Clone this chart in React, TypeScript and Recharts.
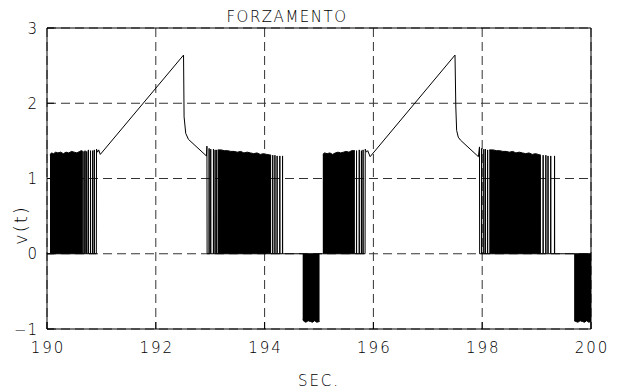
import React from 'react';
import { ComposedChart, Line, Area, XAxis, YAxis, CartesianGrid, ReferenceArea } from 'recharts';

// time axis ticks (sec) and value ticks
const xTicks = [190, 192, 194, 196, 198, 200];
const yTicks = [-1, 0, 1, 2, 3];

// dense part of each burst: top envelope [t, v]
const blockA1 = [
  [190.055, 1.31], [190.08, 1.34], [190.12, 1.33], [190.16, 1.35], [190.2, 1.34], [190.25, 1.35],
  [190.3, 1.33], [190.35, 1.35], [190.4, 1.34], [190.45, 1.36], [190.5, 1.35], [190.55, 1.34],
  [190.6, 1.36], [190.63, 1.37], [190.66, 1.36],
];
const blockA2 = [
  [193.14, 1.38], [193.2, 1.38], [193.26, 1.37], [193.32, 1.37], [193.38, 1.36], [193.44, 1.36],
  [193.5, 1.35], [193.56, 1.36], [193.62, 1.34], [193.68, 1.35], [193.74, 1.34], [193.8, 1.33],
  [193.86, 1.34], [193.92, 1.32], [193.98, 1.33], [194.04, 1.32], [194.12, 1.31],
];
const blockB1 = [
  [195.07, 1.32], [195.1, 1.34], [195.15, 1.33], [195.2, 1.34], [195.25, 1.32], [195.3, 1.34],
  [195.35, 1.35], [195.4, 1.34], [195.45, 1.35], [195.5, 1.36], [195.55, 1.35], [195.6, 1.37],
  [195.66, 1.37],
];
const blockB2 = [
  [198.13, 1.38], [198.2, 1.38], [198.26, 1.37], [198.32, 1.37], [198.38, 1.36], [198.44, 1.36],
  [198.5, 1.35], [198.56, 1.36], [198.62, 1.34], [198.68, 1.35], [198.74, 1.34], [198.8, 1.33],
  [198.86, 1.34], [198.92, 1.32], [198.98, 1.33], [199.03, 1.32], [199.08, 1.31],
];
// negative blocks
const negA = [
  [194.7, -0.88], [194.73, -0.9], [194.76, -0.91], [194.8, -0.89], [194.84, -0.9],
  [194.88, -0.91], [194.92, -0.89], [194.96, -0.91], [195.01, -0.9],
];
const negB = [
  [199.69, -0.89], [199.72, -0.9], [199.76, -0.91], [199.8, -0.89], [199.84, -0.9],
  [199.88, -0.91], [199.92, -0.89], [199.96, -0.91], [200, -0.9],
];

// isolated spikes at the burst edges [t, peak]
const tailA1 = [[190.68, 1.36], [190.7, 1.37], [190.73, 1.36], [190.76, 1.38], [190.8, 1.37], [190.84, 1.37], [190.87, 1.38]];
const leadA2 = [[192.98, 1.4], [193.01, 1.39], [193.06, 1.39], [193.09, 1.38], [193.12, 1.38]];
const tailA2 = [[194.15, 1.31], [194.19, 1.31], [194.23, 1.3], [194.28, 1.3], [194.33, 1.3]];
const tailB1 = [[195.69, 1.37], [195.74, 1.38], [195.78, 1.37], [195.81, 1.38]];
const leadB2 = [[197.99, 1.4], [198.03, 1.39], [198.06, 1.39], [198.1, 1.38]];
const tailB2 = [[199.12, 1.31], [199.17, 1.31], [199.21, 1.3], [199.26, 1.3], [199.33, 1.3]];

// ramp + relaxation between bursts
const rampA = [
  [190.907, 0], [190.91, 1.39], [190.93, 1.35], [190.95, 1.38], [190.98, 1.32], [192.51, 2.64],
  [192.52, 1.82], [192.55, 1.6], [192.6, 1.52], [192.93, 1.3], [192.94, 1.43], [192.943, 0],
];
const rampB = [
  [195.847, 0], [195.85, 1.39], [195.87, 1.35], [195.895, 1.37], [195.94, 1.29], [197.5, 2.64],
  [197.515, 1.95], [197.53, 1.64], [197.56, 1.55], [197.6, 1.51], [197.93, 1.29], [197.95, 1.42], [197.953, 0],
];

const pts = (arr: number[][]) => arr.map(([t, v]) => ({ t, v }));
const spikes = (arr: number[][]) =>
  arr.flatMap(([t, v]) => [{ t: t - 0.002, v: 0 }, { t, v }, { t: t + 0.002, v: 0 }]);

const trace = [
  { t: 190, v: 0 },
  { t: 190.66, v: 0 },
  ...spikes(tailA1),
  ...pts(rampA),
  ...spikes(leadA2),
  ...spikes(tailA2),
  { t: 195.07, v: 0 },
  ...spikes(tailB1),
  ...pts(rampB),
  ...spikes(leadB2),
  ...spikes(tailB2),
  { t: 200, v: 0 },
];

const blocks = [blockA1, blockA2, blockB1, blockB2, negA, negB];

const font = { fontFamily: 'DejaVu Sans', fontWeight: 300, fill: '#000' };

const XTick = (props: any) => {
  const { x, y, payload } = props;
  return (
    <g>
      <line x1={x} y1={y} x2={x} y2={y - 7} stroke="#000" />
      <text x={x + 1} y={y + 24} textAnchor="middle" fontSize={15} letterSpacing={2} {...font}>
        {payload.value}
      </text>
    </g>
  );
};

const YTick = (props: any) => {
  const { x, y, payload } = props;
  const label = payload.value < 0 ? '\u2212' + Math.abs(payload.value) : String(payload.value);
  return (
    <g>
      <line x1={x} y1={y} x2={x + 7} y2={y} stroke="#000" />
      <text x={x - 9} y={y + 5.5} textAnchor="end" fontSize={15} letterSpacing={1} {...font}>
        {label}
      </text>
    </g>
  );
};

export default function App() {
  return (
    <div style={{ position: 'absolute', left: 0, top: 0, width: 621, height: 389, background: '#fff' }}>
      <ComposedChart width={621} height={389} margin={{ top: 28, right: 30, bottom: 0, left: 0 }}>
        <CartesianGrid stroke="#333" strokeDasharray="9 5" />
        <XAxis
          dataKey="t"
          type="number"
          domain={[190, 200]}
          ticks={xTicks}
          allowDataOverflow
          height={60}
          axisLine={false}
          tickLine={false}
          tickSize={0}
          tickMargin={0}
          tick={<XTick />}
          interval={0}
        />
        <YAxis
          type="number"
          domain={[-1, 3]}
          ticks={yTicks}
          allowDataOverflow
          width={47}
          axisLine={false}
          tickLine={false}
          tickSize={0}
          tickMargin={0}
          tick={<YTick />}
          interval={0}
        />
        {blocks.map((b, i) => (
          <Area
            key={i}
            data={pts(b)}
            dataKey="v"
            type="linear"
            stroke="#000"
            strokeWidth={1}
            fill="#000"
            fillOpacity={1}
            baseValue={0}
            dot={false}
            activeDot={false}
            isAnimationActive={false}
          />
        ))}
        <Line
          data={trace}
          dataKey="v"
          type="linear"
          stroke="#000"
          strokeWidth={1}
          dot={false}
          activeDot={false}
          isAnimationActive={false}
        />
        <ReferenceArea x1={190} x2={200} y1={-1} y2={3} fill="none" stroke="#000" strokeWidth={1} />
      </ComposedChart>
      <svg width={621} height={389} style={{ position: 'absolute', left: 0, top: 0, pointerEvents: 'none' }}>
        <text x={287} y={22} textAnchor="middle" fontSize={15} letterSpacing={1.5} {...font}>
          FORZAMENTO
        </text>
        <text x={319} y={386} textAnchor="middle" fontSize={15} letterSpacing={2} {...font}>
          SEC.
        </text>
        <text
          x={27}
          y={225}
          textAnchor="middle"
          fontSize={18}
          letterSpacing={2}
          transform="rotate(-90 27 225)"
          {...font}
        >
          v(t)
        </text>
      </svg>
    </div>
  );
}
